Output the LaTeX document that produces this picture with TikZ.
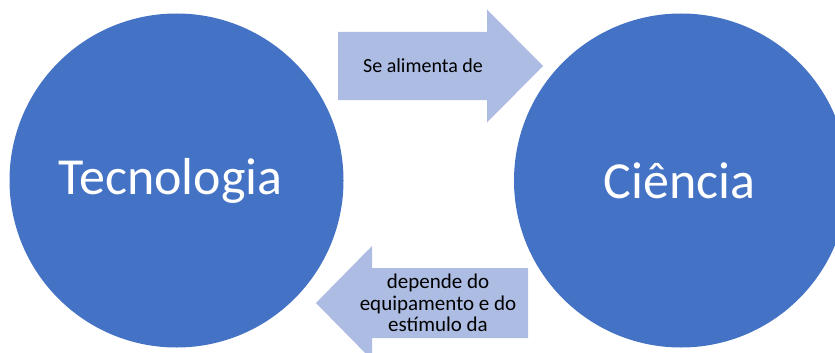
\documentclass[tikz,border=0pt]{standalone}
\usepackage{fontspec}
\setmainfont{Carlito}
\definecolor{circblue}{HTML}{4472C4}
\definecolor{arrowblue}{HTML}{ADBCE2}
\tikzset{
    bigcirc/.style={circle, fill=circblue, minimum size=334pt, inner sep=0pt},
    bigtext/.style={text=white, font=\fontsize{52}{62}\selectfont},
    smalltext/.style={text=black, align=center, font=\fontsize{20}{21.5}\selectfont}
}
\begin{document}
\begin{tikzpicture}[x=1pt, y=-1pt]
        \useasboundingbox (0,0) rectangle (835,353);

        % the two circles
        \node[bigcirc] (tecno) at (176.5,180.5) {};
        \node[bigcirc] (ciencia) at (681,180.5) {};
        \node[bigtext] (tecnotext) at (170.5,181) {Tecnologia};
        \node[bigtext] (cienciatext) at (679.5,181) {Ciência};

        % upper arrow, pointing right
        \fill[arrowblue] (338,32) -- (487,32) -- (487,9.5) -- (543,66) -- (487,122.5) -- (487,100) -- (338,100) -- cycle;
        \node[smalltext] (alimenta) at (423,66) {Se alimenta de};

        % lower arrow, pointing left
        \fill[arrowblue] (528,268) -- (372,268) -- (372,246) -- (316,303) -- (372,360) -- (372,338) -- (528,338) -- cycle;
        \node[smalltext, font=\fontsize{21}{21.5}\selectfont] (depende) at (438,303) {depende do\\equipamento e do\\estímulo da};
    \end{tikzpicture}
\end{document}
